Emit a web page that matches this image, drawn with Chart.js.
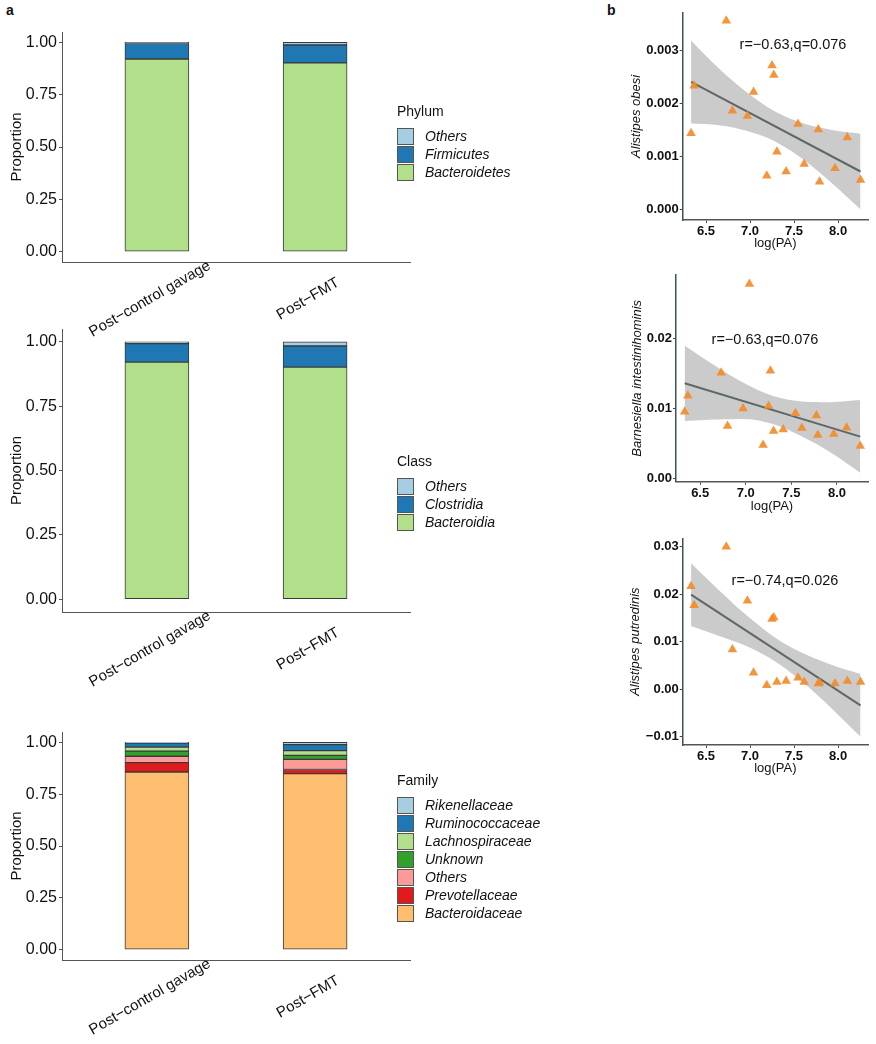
<!DOCTYPE html>
<html>
<head>
<meta charset="utf-8">
<script src="https://cdn.jsdelivr.net/npm/chart.js@4.4.1/dist/chart.umd.min.js"></script>
<style>
  body { margin: 0; background: #fff; font-family: "Liberation Sans", Arial, sans-serif; color: #111; }
  #fig { position: relative; width: 876px; height: 1044px; overflow: hidden; }
  canvas, .txt, .legend { position: absolute; }
  .letter { font-weight: bold; font-size: 14px; }
  .note { font-size: 14.5px; transform: translate(-50%, -50%); white-space: nowrap; }
  .legend { left: 397px; }
  .ltitle { font-size: 14px; height: 16px; line-height: 16px; margin-bottom: 8px; }
  .lrow { height: 18px; display: flex; align-items: center; }
  .key { width: 17px; height: 17px; box-sizing: border-box; border: 1px solid #555; margin-right: 11px; }
  .lab { font-style: italic; font-size: 14px; white-space: nowrap; }
</style>
</head>
<body>
<div id="fig">
  <div class="txt letter" style="left:6px;top:2px;">a</div>
  <div class="txt letter" style="left:607px;top:2px;">b</div>

  <canvas id="barPhylum" width="560" height="340" style="left:0;top:0;"></canvas>
  <canvas id="barClass" width="560" height="400" style="left:0;top:300px;"></canvas>
  <canvas id="barFamily" width="560" height="344" style="left:0;top:700px;"></canvas>

  <canvas id="scObesi" width="276" height="255" style="left:600px;top:0;"></canvas>
  <canvas id="scBarnes" width="276" height="258" style="left:600px;top:260px;"></canvas>
  <canvas id="scPutred" width="276" height="270" style="left:600px;top:510px;"></canvas>

  <div class="txt note" style="left:793px;top:44px;">r=−0.63,q=0.076</div>
  <div class="txt note" style="left:765px;top:339px;">r=−0.63,q=0.076</div>
  <div class="txt note" style="left:785px;top:580px;">r=−0.74,q=0.026</div>
</div>

<script>
const FONT = "'Liberation Sans', Arial, sans-serif";

// ---- panel a: relative abundance ----
const groups = ['Post−control gavage', 'Post−FMT'];
const proportionTicks = [0, 0.25, 0.5, 0.75, 1];

// stacking order, bottom to top
const phylumNames = ['Bacteroidetes', 'Firmicutes', 'Others'];
const phylumColors = ['#b2df8a', '#1f78b4', '#a6cee3'];
const phylumBacteroidetes = [0.921, 0.902];
const phylumFirmicutes = [0.074, 0.086];
const phylumOthers = [0.005, 0.012];

const classNames = ['Bacteroidia', 'Clostridia', 'Others'];
const classColors = ['#b2df8a', '#1f78b4', '#a6cee3'];
const classBacteroidia = [0.921, 0.902];
const classClostridia = [0.072, 0.082];
const classOthers = [0.007, 0.016];

const familyNames = ['Bacteroidaceae', 'Prevotellaceae', 'Others', 'Unknown', 'Lachnospiraceae', 'Ruminococcaceae', 'Rikenellaceae'];
const familyColors = ['#fdbf6f', '#e31a1c', '#fb9a99', '#33a02c', '#b2df8a', '#1f78b4', '#a6cee3'];
const familyBacteroidaceae = [0.857, 0.849];
const familyPrevotellaceae = [0.045, 0.020];
const familyOthers = [0.031, 0.049];
const familyUnknown = [0.025, 0.019];
const familyLachnospiraceae = [0.019, 0.023];
const familyRuminococcaceae = [0.020, 0.029];
const familyRikenellaceae = [0.003, 0.011];

// ---- panel b: correlations with log(PA) ----
const logPA = [6.33, 6.365, 6.73, 6.80, 6.97, 7.04, 7.19, 7.25, 7.27, 7.305, 7.41, 7.545, 7.615, 7.775, 7.79, 7.965, 8.105, 8.255];
const alistipesObesi = [0.00144, 0.00233, 0.00355, 0.00186, 0.00176, 0.00221, 0.00064, 0.00271, 0.00253, 0.00109, 0.00072, 0.00161, 0.00086, 0.00151, 0.00053, 0.00078, 0.00136, 0.00056];
const barnesiellaIntestinihominis = [0.00954, 0.0118, 0.0151, 0.0075, 0.0100, 0.0278, 0.00477, 0.01036, 0.0154, 0.00678, 0.0070, 0.0093, 0.0072, 0.0090, 0.0062, 0.00635, 0.00725, 0.00463];
const alistipesPutredinis = [0.0217, 0.0177, 0.0300, 0.00835, 0.0186, 0.00344, 0.00084, 0.0148, 0.0151, 0.00154, 0.00175, 0.0024, 0.00154, 0.0012, 0.0013, 0.0012, 0.00175, 0.0015];

const fitX = [6.33, 8.255];
const obesiFit = [0.0024, 0.00072];
const barnesFit = [0.0136, 0.00596];
const putredFit = [0.0199, -0.0034];

const bandX = [6.33, 6.65, 6.97, 7.29, 7.61, 7.93, 8.255];
const obesiUpper = [0.00318, 0.00265, 0.00220, 0.00184, 0.00162, 0.00150, 0.00143];
const obesiLower = [0.00162, 0.00159, 0.00148, 0.00128, 0.00094, 0.00050, 0.00001];
const barnesUpper = [0.0190, 0.0162, 0.0137, 0.0118, 0.0110, 0.0109, 0.0112];
const barnesLower = [0.0082, 0.0084, 0.0085, 0.0078, 0.0060, 0.0037, 0.0008];
const putredUpper = [0.0265, 0.0208, 0.0154, 0.0108, 0.0075, 0.0051, 0.0032];
const putredLower = [0.0133, 0.0112, 0.0090, 0.0058, 0.0013, -0.0041, -0.0100];

const logPATicks = [6.5, 7.0, 7.5, 8.0];
const obesiTicks = [0, 0.001, 0.002, 0.003];
const barnesTicks = [0, 0.01, 0.02];
const putredTicks = [-0.01, 0, 0.01, 0.02, 0.03];

// rotated group labels under the bars, centred on the bar
const rotatedLabels = {
  id: 'rotatedLabels',
  afterDraw(chart) {
    const {ctx, chartArea: {bottom}, scales: {x}} = chart;
    ctx.save();
    ctx.font = '15px ' + FONT;
    ctx.fillStyle = '#111';
    ctx.textAlign = 'center';
    ctx.textBaseline = 'middle';
    groups.forEach((g, i) => {
      ctx.save();
      ctx.translate(x.getPixelForValue(i + 1) - 7, bottom + 37);
      ctx.rotate(-Math.PI / 6);
      ctx.fillText(g, 0, 0);
      ctx.restore();
    });
    ctx.restore();
  }
};

function barChart(id, names, colors, values, topPad, xHeight) {
  return new Chart(document.getElementById(id), {
    type: 'bar',
    data: {
      datasets: names.map((n, k) => ({
        label: n,
        data: values[k].map((v, i) => ({x: i + 1, y: v})),
        backgroundColor: colors[k],
        borderColor: '#3a3a3a',
        borderWidth: 1,
        borderSkipped: false,
        barThickness: 64
      }))
    },
    options: {
      responsive: false,
      animation: false,
      layout: {padding: {left: 8, right: 150, top: topPad, bottom: 0}},
      plugins: {legend: {display: false}, tooltip: {enabled: false}},
      scales: {
        x: {
          type: 'linear', stacked: true, offset: false, min: 0.4, max: 2.6,
          ticks: {display: false},
          grid: {display: false},
          border: {color: '#555', width: 1},
          afterFit: s => { s.height = xHeight; }
        },
        y: {
          stacked: true, min: -0.05, max: 1.05,
          afterBuildTicks: s => { s.ticks = proportionTicks.map(v => ({value: v})); },
          ticks: {callback: v => v.toFixed(2), font: {size: 16, family: FONT}, color: '#111', padding: 2},
          grid: {display: true, drawOnChartArea: false, tickLength: 3, color: '#555'},
          border: {color: '#555', width: 1},
          title: {display: true, text: 'Proportion', font: {size: 15, family: FONT}, color: '#111', padding: 0},
          afterFit: s => { s.width = 54; }
        }
      }
    },
    plugins: [rotatedLabels]
  });
}

function legend(title, names, colors, top) {
  const box = document.createElement('div');
  box.className = 'legend';
  box.style.top = top + 'px';
  let html = '<div class="ltitle">' + title + '</div>';
  names.slice().reverse().forEach((n, k) => {
    const c = colors[colors.length - 1 - k];
    html += '<div class="lrow"><span class="key" style="background:' + c + '"></span><span class="lab">' + n + '</span></div>';
  });
  box.innerHTML = html;
  document.getElementById('fig').appendChild(box);
}

barChart('barPhylum', phylumNames, phylumColors, [phylumBacteroidetes, phylumFirmicutes, phylumOthers], 32, 78);
barChart('barClass', classNames, classColors, [classBacteroidia, classClostridia, classOthers], 29, 88);
barChart('barFamily', familyNames, familyColors,
  [familyBacteroidaceae, familyPrevotellaceae, familyOthers, familyUnknown, familyLachnospiraceae, familyRuminococcaceae, familyRikenellaceae], 32, 84);

legend('Phylum', phylumNames, phylumColors, 103);
legend('Class', classNames, classColors, 453);
legend('Family', familyNames, familyColors, 772);

function fmt(d) {
  return v => (v < 0 ? '−' : '') + Math.abs(v).toFixed(d);
}

function scatterChart(id, p) {
  const xy = (xs, ys) => xs.map((x, i) => ({x: x, y: ys[i]}));
  return new Chart(document.getElementById(id), {
    type: 'scatter',
    data: {
      datasets: [
        {
          data: xy(logPA, p.values),
          pointStyle: 'triangle', pointRadius: 5.5, borderWidth: 0,
          backgroundColor: 'rgba(243,140,42,0.92)'
        },
        {
          type: 'line', data: xy(fitX, p.fit),
          borderColor: '#5d6868', borderWidth: 2, pointRadius: 0, fill: false
        },
        {
          type: 'line', data: xy(bandX, p.upper),
          borderWidth: 0, pointRadius: 0, cubicInterpolationMode: 'monotone',
          fill: '+1', backgroundColor: 'rgba(160,160,160,0.55)'
        },
        {
          type: 'line', data: xy(bandX, p.lower),
          borderWidth: 0, pointRadius: 0, cubicInterpolationMode: 'monotone', fill: false
        }
      ]
    },
    options: {
      responsive: false,
      animation: false,
      layout: {padding: {left: p.padLeft, right: 8, top: p.padTop, bottom: 0}},
      plugins: {legend: {display: false}, tooltip: {enabled: false}},
      scales: {
        x: {
          type: 'linear', min: 6.235, max: 8.34,
          afterBuildTicks: s => { s.ticks = logPATicks.map(v => ({value: v})); },
          ticks: {callback: fmt(1), font: {size: 13, weight: 'bold', family: FONT}, color: '#111', padding: 1},
          grid: {display: true, drawOnChartArea: false, tickLength: 3, color: '#444'},
          border: {color: '#555', width: 1.5},
          title: {display: true, text: 'log(PA)', font: {size: 13, family: FONT}, color: '#111', padding: {top: 0, bottom: 4}},
          afterFit: s => { s.height = p.xHeight; }
        },
        y: {
          min: p.min, max: p.max,
          afterBuildTicks: s => { s.ticks = p.ticks.map(v => ({value: v})); },
          ticks: {callback: fmt(p.dec), font: {size: 13, weight: 'bold', family: FONT}, color: '#111', padding: 1},
          grid: {display: true, drawOnChartArea: false, tickLength: 3, color: '#444'},
          border: {color: '#3d5454', width: 1.5},
          title: {display: true, text: p.title, font: {size: 13, style: 'italic', family: FONT}, color: '#111', padding: 0},
          afterFit: s => { s.width = p.yWidth; }
        }
      }
    }
  });
}

scatterChart('scObesi', {
  values: alistipesObesi, fit: obesiFit, upper: obesiUpper, lower: obesiLower,
  ticks: obesiTicks, dec: 3, min: -0.00019, max: 0.0037, title: 'Alistipes obesi',
  padLeft: 28.2, padTop: 12.7, yWidth: 54.5, xHeight: 35
});
scatterChart('scBarnes', {
  values: barnesiellaIntestinihominis, fit: barnesFit, upper: barnesUpper, lower: barnesLower,
  ticks: barnesTicks, dec: 2, min: -0.00049, max: 0.0291, title: 'Barnesiella intestinihominis',
  padLeft: 29.7, padTop: 15, yWidth: 46.3, xHeight: 36.3
});
scatterChart('scPutred', {
  values: alistipesPutredinis, fit: putredFit, upper: putredUpper, lower: putredLower,
  ticks: putredTicks, dec: 2, min: -0.01175, max: 0.03177, title: 'Alistipes putredinis',
  padLeft: 27.2, padTop: 28.3, yWidth: 55.5, xHeight: 35
});
</script>
</body>
</html>
